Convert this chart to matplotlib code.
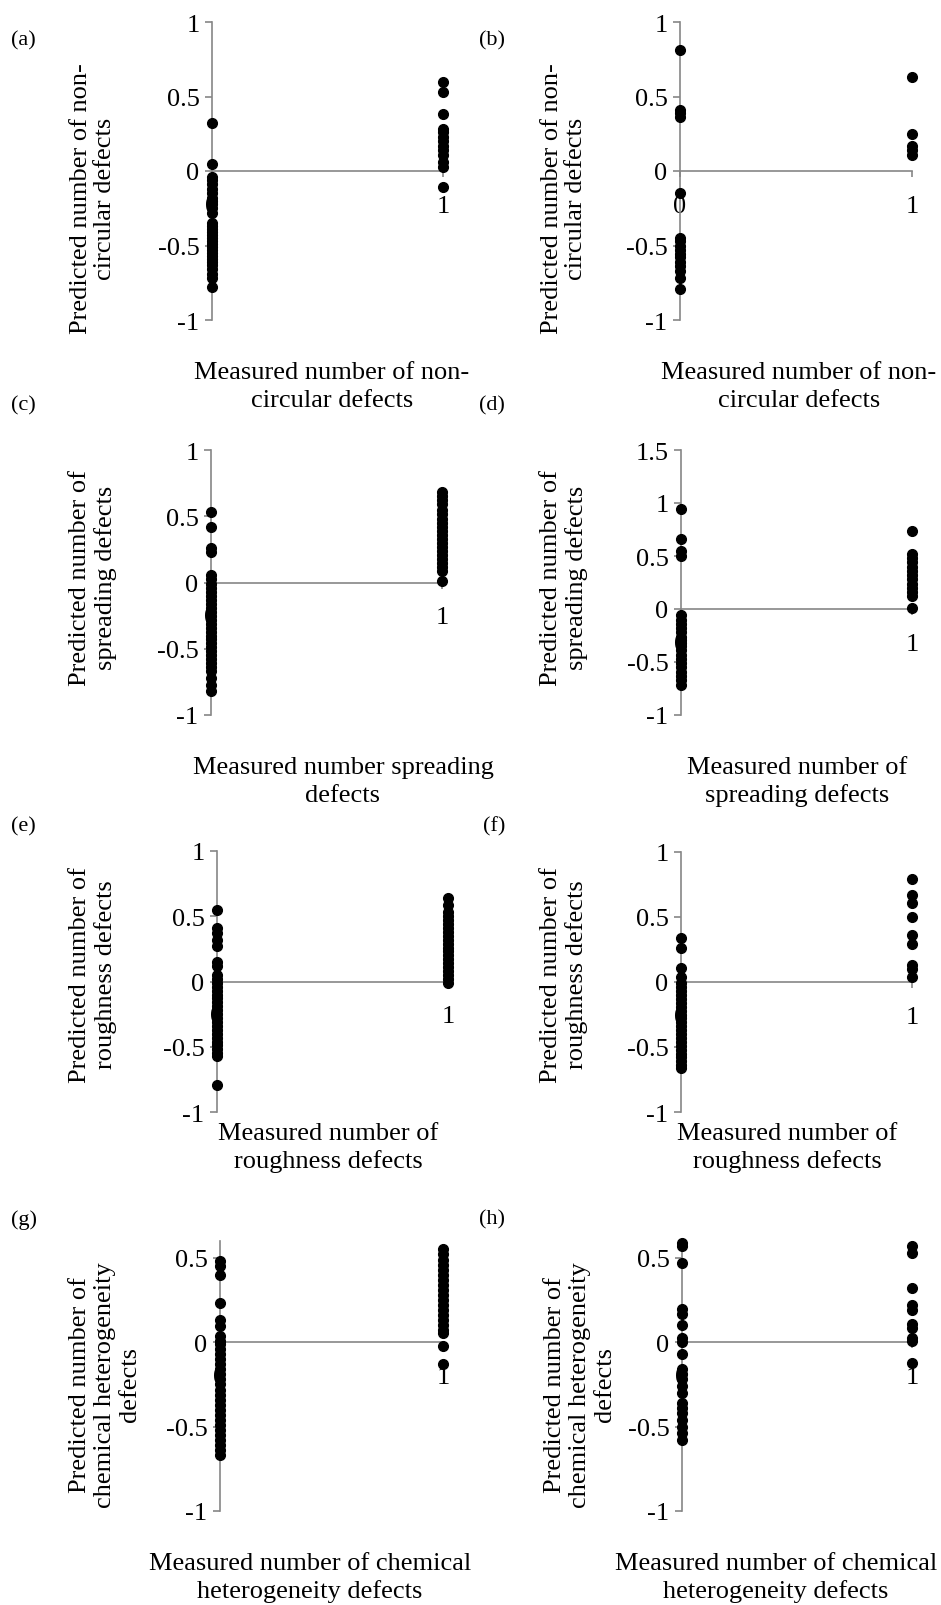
import matplotlib.pyplot as plt
from matplotlib.ticker import FixedLocator, FixedFormatter

plt.rcParams['font.family'] = ['Liberation Serif', 'DejaVu Serif']

W, H = 941, 1606
axis_grey = '#868686'

# predicted values for measured = 0 and measured = 1
a_x0 = [0.32, 0.05, -0.04, -0.06, -0.09, -0.12, -0.15, -0.18, -0.20, -0.22, -0.25, -0.28,
        -0.35, -0.37, -0.39, -0.41, -0.43, -0.45, -0.47, -0.49, -0.51, -0.53, -0.55, -0.57,
        -0.59, -0.61, -0.63, -0.66, -0.69, -0.72, -0.78]
a_x1 = [0.60, 0.53, 0.38, 0.28, 0.26, 0.23, 0.20, 0.17, 0.14, 0.11, 0.06, 0.03, -0.105]

b_x0 = [0.81, 0.41, 0.39, 0.36, -0.145, -0.45, -0.47, -0.50, -0.53, -0.56, -0.58, -0.61,
        -0.64, -0.67, -0.72, -0.79]
b_x1 = [0.63, 0.25, 0.17, 0.14, 0.105]

c_x0 = [0.53, 0.42, 0.26, 0.23, 0.06, 0.03, -0.01, -0.04, -0.07, -0.10, -0.13, -0.16,
        -0.19, -0.22, -0.25, -0.28, -0.31, -0.34, -0.37, -0.40, -0.43, -0.46, -0.49,
        -0.52, -0.55, -0.58, -0.61, -0.64, -0.67, -0.72, -0.77, -0.82]
c_x1 = [0.68, 0.65, 0.62, 0.59, 0.55, 0.52, 0.48, 0.45, 0.42, 0.39, 0.36, 0.33, 0.30,
        0.27, 0.24, 0.21, 0.18, 0.15, 0.12, 0.09, 0.01]

d_x0 = [0.94, 0.66, 0.55, 0.50, -0.06, -0.10, -0.14, -0.18, -0.22, -0.26, -0.29, -0.32,
        -0.35, -0.39, -0.43, -0.47, -0.51, -0.55, -0.59, -0.63, -0.67, -0.72]
d_x1 = [0.74, 0.52, 0.48, 0.44, 0.40, 0.36, 0.32, 0.28, 0.24, 0.20, 0.16, 0.12, 0.01]

e_x0 = [0.55, 0.41, 0.37, 0.32, 0.27, 0.15, 0.12, 0.05, 0.02, -0.01, -0.04, -0.07,
        -0.10, -0.13, -0.16, -0.19, -0.22, -0.25, -0.28, -0.31, -0.34, -0.37, -0.40,
        -0.43, -0.46, -0.49, -0.52, -0.55, -0.57, -0.79]
e_x1 = [0.64, 0.59, 0.53, 0.50, 0.47, 0.44, 0.41, 0.38, 0.35, 0.32, 0.29, 0.26, 0.23,
        0.20, 0.17, 0.14, 0.11, 0.08, 0.05, 0.02, -0.01]

f_x0 = [0.34, 0.26, 0.11, 0.04, -0.01, -0.04, -0.07, -0.10, -0.13, -0.16, -0.19, -0.22,
        -0.25, -0.28, -0.31, -0.34, -0.37, -0.40, -0.43, -0.46, -0.49, -0.52, -0.55,
        -0.58, -0.61, -0.64, -0.66]
f_x1 = [0.79, 0.67, 0.61, 0.50, 0.36, 0.29, 0.13, 0.10, 0.04]

g_x0 = [0.48, 0.45, 0.40, 0.235, 0.13, 0.095, 0.035, 0.01, -0.01, -0.04, -0.07, -0.10,
        -0.13, -0.16, -0.19, -0.22, -0.25, -0.28, -0.31, -0.34, -0.37, -0.40, -0.43,
        -0.46, -0.49, -0.52, -0.55, -0.58, -0.61, -0.64, -0.67]
g_x1 = [0.555, 0.525, 0.49, 0.46, 0.43, 0.40, 0.37, 0.34, 0.31, 0.28, 0.25, 0.22, 0.19,
        0.16, 0.13, 0.10, 0.075, 0.055, -0.02, -0.13]

h_x0 = [0.59, 0.57, 0.47, 0.195, 0.165, 0.10, 0.025, 0.0, -0.07, -0.16, -0.19, -0.22,
        -0.26, -0.30, -0.36, -0.39, -0.42, -0.46, -0.50, -0.54, -0.58]
h_x1 = [0.57, 0.53, 0.32, 0.22, 0.19, 0.11, 0.085, 0.025, 0.01, -0.12]

y_labels = {
    'a': 'Predicted number of non-\ncircular defects',
    'b': 'Predicted number of non-\ncircular defects',
    'c': 'Predicted number of\nspreading defects',
    'd': 'Predicted number of\nspreading defects',
    'e': 'Predicted number of\nroughness defects',
    'f': 'Predicted number of\nroughness defects',
    'g': 'Predicted number of\nchemical heterogeneity\ndefects',
    'h': 'Predicted number of\nchemical heterogeneity\ndefects',
}
x_labels = {
    'a': 'Measured number of non-\ncircular defects',
    'b': 'Measured number of non-\ncircular defects',
    'c': 'Measured number spreading\ndefects',
    'd': 'Measured number of\nspreading defects',
    'e': 'Measured number of\nroughness defects',
    'f': 'Measured number of\nroughness defects',
    'g': 'Measured number of chemical\nheterogeneity defects',
    'h': 'Measured number of chemical\nheterogeneity defects',
}

fig = plt.figure(figsize=(W / 100, H / 100), dpi=100)


def panel(key, x0_vals, x1_vals, box, ylim, yticks, ylab_xy, xlab_xy, letter_xy):
    left, right, top, bottom = box
    ax = fig.add_axes([left / W, 1 - bottom / H, (right - left) / W, (bottom - top) / H])
    ax.plot([0] * len(x0_vals), x0_vals, 'o', color='black', ms=7, clip_on=False, zorder=3)
    ax.plot([1] * len(x1_vals), x1_vals, 'o', color='black', ms=7, clip_on=False, zorder=3)
    ax.set_xlim(0, 1)
    ax.set_ylim(*ylim)
    for s in ['top', 'right']:
        ax.spines[s].set_visible(False)
    ax.spines['bottom'].set_position(('data', 0))
    for s in ['left', 'bottom']:
        ax.spines[s].set_color(axis_grey)
        ax.spines[s].set_linewidth(1.2)
    ax.patch.set_visible(False)
    ax.yaxis.set_major_locator(FixedLocator(yticks))
    ax.yaxis.set_major_formatter(FixedFormatter(['%g' % t for t in yticks]))
    ax.xaxis.set_major_locator(FixedLocator([0, 1]))
    ax.xaxis.set_major_formatter(FixedFormatter(['0', '1']))
    ax.tick_params(axis='y', direction='out', length=5, width=1.2, color=axis_grey,
                   labelsize=19, pad=4)
    ax.tick_params(axis='x', direction='out', length=4, width=1.2, color=axis_grey,
                   labelsize=19, pad=13)
    fig.text(ylab_xy[0] / W, 1 - ylab_xy[1] / H, y_labels[key], rotation=90,
             ha='center', va='center', multialignment='center', fontsize=19,
             linespacing=1.15)
    fig.text(xlab_xy[0] / W, 1 - xlab_xy[1] / H, x_labels[key],
             ha='center', va='center', multialignment='center', fontsize=19,
             linespacing=1.3)
    fig.text(letter_xy[0] / W, 1 - letter_xy[1] / H, '(%s)' % key,
             ha='left', va='center', fontsize=16)
    return ax


t2 = [-1, -0.5, 0, 0.5, 1]
panel('a', a_x0, a_x1, (212, 443, 23, 321), (-1, 1), t2, (93, 199), (332, 387), (11, 41))
panel('b', b_x0, b_x1, (680, 912, 23, 321), (-1, 1), t2, (564, 199), (799, 387), (479, 41))
panel('c', c_x0, c_x1, (211, 442, 451, 716), (-1, 1), t2, (93, 578), (343, 782), (11, 406))
panel('d', d_x0, d_x1, (681, 912, 451, 716), (-1, 1.5), [-1, -0.5, 0, 0.5, 1, 1.5],
      (564, 578), (797, 782), (479, 406))
panel('e', e_x0, e_x1, (217, 448, 852, 1113), (-1, 1), t2, (93, 975), (328, 1148), (11, 827))
panel('f', f_x0, f_x1, (681, 912, 853, 1113), (-1, 1), t2, (564, 975), (787, 1148), (483, 827))
panel('g', g_x0, g_x1, (220, 443, 1242, 1512), (-1, 0.6), [-1, -0.5, 0, 0.5],
      (105, 1385), (310, 1578), (11, 1220))
panel('h', h_x0, h_x1, (682, 912, 1242, 1512), (-1, 0.6), [-1, -0.5, 0, 0.5],
      (580, 1385), (776, 1578), (479, 1220))

fig.savefig('out.png', dpi=100)
